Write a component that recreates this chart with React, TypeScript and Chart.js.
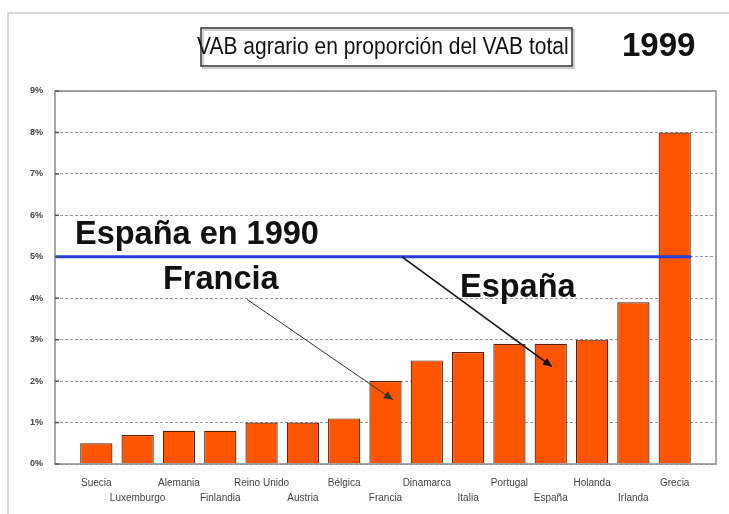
import React, { useEffect, useRef } from "react";
import { Chart, registerables } from "chart.js";

Chart.register(...registerables);

const categories = [
  "Suecia", "Luxemburgo", "Alemania", "Finlandia", "Reino Unido", "Austria", "Bélgica",
  "Francia", "Dinamarca", "Italia", "Portugal", "España", "Holanda", "Irlanda", "Grecia",
];
const values = [0.5, 0.7, 0.8, 0.8, 1.0, 1.0, 1.1, 2.0, 2.5, 2.7, 2.9, 2.9, 3.0, 3.9, 8.0];
const spain1990 = 5;
const yMax = 9;
const titleText = "VAB agrario en proporción del VAB total";
const yearText = "1999";

const annotationPlugin = {
  id: "annots",
  afterDraw(chart: any) {
    const ctx = chart.ctx as CanvasRenderingContext2D;
    const xs = chart.scales.x;
    const ys = chart.scales.y;
    const a = chart.chartArea;
    ctx.save();
    // outer frame
    ctx.strokeStyle = "#d8d8d8";
    ctx.lineWidth = 2;
    ctx.beginPath();
    ctx.moveTo(8, 514);
    ctx.lineTo(8, 13);
    ctx.lineTo(729, 13);
    ctx.stroke();
    // plot border
    ctx.strokeStyle = "#8a8a8a";
    ctx.lineWidth = 1.5;
    ctx.strokeRect(a.left, a.top, a.right - a.left, a.bottom - a.top);
    // inner tick marks
    ctx.strokeStyle = "#555";
    ctx.lineWidth = 1.5;
    for (let v = 0; v <= yMax; v++) {
      const y = ys.getPixelForValue(v);
      ctx.beginPath();
      ctx.moveTo(a.left, y);
      ctx.lineTo(a.left + 4, y);
      ctx.stroke();
    }
    // title box
    ctx.strokeStyle = "#cfcfcf";
    ctx.lineWidth = 2;
    ctx.strokeRect(203, 30, 371, 38);
    ctx.strokeStyle = "#333";
    ctx.lineWidth = 1.5;
    ctx.strokeRect(201, 28, 371, 38);
    ctx.fillStyle = "#111";
    ctx.textBaseline = "middle";
    ctx.textAlign = "left";
    ctx.save();
    ctx.translate(197, 47);
    ctx.scale(1, 1.15);
    ctx.font = "21px 'Liberation Sans', Arial, sans-serif";
    ctx.fillText(titleText, 0, 0);
    ctx.restore();
    ctx.font = "bold 33px 'Liberation Sans', Arial, sans-serif";
    ctx.fillText(yearText, 622, 47);
    // big labels
    ctx.font = "bold 32.5px 'Liberation Sans', Arial, sans-serif";
    ctx.fillText("España en 1990", 75, 235);
    ctx.fillText("Francia", 163, 280);
    ctx.fillText("España", 460, 288);
    // arrows
    const arrow = (x1: number, y1: number, x2: number, y2: number, w: number, col: string) => {
      ctx.strokeStyle = col;
      ctx.fillStyle = col;
      ctx.lineWidth = w;
      ctx.beginPath();
      ctx.moveTo(x1, y1);
      ctx.lineTo(x2, y2);
      ctx.stroke();
      const ang = Math.atan2(y2 - y1, x2 - x1);
      const L = 9, W = 4;
      ctx.beginPath();
      ctx.moveTo(x2, y2);
      ctx.lineTo(x2 - L * Math.cos(ang) + W * Math.sin(ang), y2 - L * Math.sin(ang) - W * Math.cos(ang));
      ctx.lineTo(x2 - L * Math.cos(ang) - W * Math.sin(ang), y2 - L * Math.sin(ang) + W * Math.cos(ang));
      ctx.closePath();
      ctx.fill();
    };
    arrow(xs.getPixelForValue(3.65), ys.getPixelForValue(3.97), xs.getPixelForValue(7.18), ys.getPixelForValue(1.55), 1, "#333");
    arrow(xs.getPixelForValue(7.4), ys.getPixelForValue(5), xs.getPixelForValue(11.03), ys.getPixelForValue(2.35), 1.6, "#111");
    ctx.restore();
  },
};

export default function App() {
  const ref = useRef<HTMLCanvasElement | null>(null);
  useEffect(() => {
    document.body.style.margin = "0";
    const canvas = ref.current!;
    const chart = new Chart(canvas, {
      type: "bar",
      data: {
        datasets: [
          {
            type: "line",
            data: [
              { x: -1, y: spain1990 },
              { x: 14.4, y: spain1990 },
            ],
            borderColor: "#2a3fd6",
            borderWidth: 3,
            pointRadius: 0,
            order: 0,
          } as any,
          {
            type: "bar",
            data: values.map((v, i) => ({ x: i, y: v })),
            backgroundColor: "#ff5500",
            borderColor: "#5a1e00",
            borderWidth: 1.2,
            categoryPercentage: 1,
            barPercentage: 0.78,
            order: 1,
          } as any,
        ],
      },
      options: {
        responsive: false,
        animation: false,
        devicePixelRatio: 1,
        layout: { padding: { top: 91, right: 13, left: 0, bottom: 0 } },
        plugins: { legend: { display: false }, tooltip: { enabled: false } },
        scales: {
          x: {
            type: "linear",
            min: -1,
            max: 15,
            offset: false,
            grid: { display: false },
            border: { display: false },
            afterFit: (s: any) => { s.height = 50; },
            ticks: {
              stepSize: 1,
              autoSkip: false,
              maxRotation: 0,
              minRotation: 0,
              padding: 4,
              color: "#444",
              font: { size: 10, family: "'Liberation Sans', Arial, sans-serif", lineHeight: 1.5 },
              callback: (v: any) => {
                const i = Number(v);
                if (i < 0 || i >= categories.length) return "";
                return i % 2 === 0 ? [categories[i], ""] : ["", categories[i]];
              },
            },
          },
          y: {
            min: 0,
            max: yMax,
            grid: { color: "#9a9a9a", drawTicks: false, lineWidth: 1 },
            border: { display: false, dash: [3, 2] },
            afterFit: (s: any) => { s.width = 55; },
            ticks: {
              stepSize: 1,
              padding: 12,
              color: "#444",
              font: { size: 9, weight: "bold", family: "'Liberation Sans', Arial, sans-serif" },
              callback: (v: any) => v + "%",
            },
          },
        },
      } as any,
      plugins: [annotationPlugin],
    });
    return () => chart.destroy();
  }, []);
  return (
    <div style={{ width: 729, height: 514, background: "#fff" }}>
      <canvas ref={ref} width={729} height={514} />
    </div>
  );
}
